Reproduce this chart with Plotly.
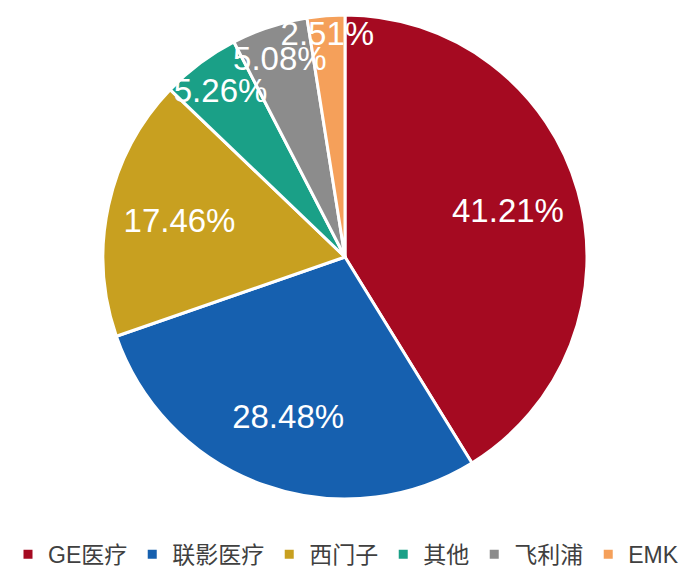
import plotly.graph_objects as go

# market share by vendor (%)
vendors = ['GE医疗', '联影医疗', '西门子', '其他', '飞利浦', 'EMK']
shares = [41.21, 28.48, 17.46, 5.26, 5.08, 2.51]
colors = ['#A50A21', '#1660AF', '#C8A020', '#1AA087', '#8C8C8C', '#F5A05A']

fig = go.Figure()
# coloured slices
fig.add_trace(go.Pie(
    labels=vendors,
    values=shares,
    sort=False,
    direction='clockwise',
    rotation=0,
    marker=dict(colors=colors, line=dict(color='white', width=3)),
    textinfo='none',
    hoverinfo='label+value',
))
# transparent ring on top, only to push the labels outwards
fig.add_trace(go.Pie(
    labels=vendors,
    values=shares,
    sort=False,
    direction='clockwise',
    rotation=0,
    hole=0.4,
    marker=dict(colors=['rgba(0,0,0,0)'] * len(vendors),
                line=dict(width=0)),
    texttemplate='%{value:.2f}%',
    textposition='inside',
    insidetextorientation='horizontal',
    textfont=dict(family='Liberation Sans, Arial', size=33, color='white'),
    hoverinfo='skip',
    showlegend=False,
))
fig.update_layout(
    width=700,
    height=569,
    margin=dict(l=0, r=26, t=7, b=78),
    paper_bgcolor='white',
    uniformtext=dict(minsize=33, mode='show'),
    showlegend=True,
    legend=dict(
        orientation='h',
        x=0.5,
        xanchor='center',
        y=-0.114,
        yanchor='middle',
        font=dict(family='Liberation Sans, Noto Sans CJK SC', size=23,
                  color='#404040'),
        itemwidth=30,
    ),
)
fig.write_html('out.html')
